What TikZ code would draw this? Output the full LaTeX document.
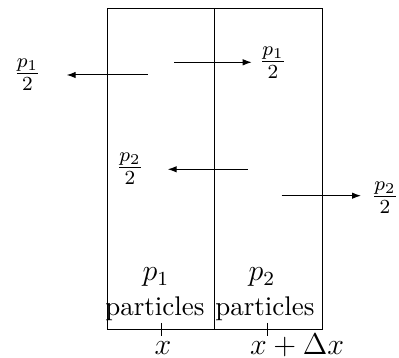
\documentclass[tikz,border=0pt]{standalone}
\usetikzlibrary{arrows.meta}
\begin{document}
\begin{tikzpicture}[x=0.4pt,y=-0.4pt,
  arr/.style={-{Latex[length=3.6pt,width=2.6pt]}},
  fraclbl/.style={inner sep=0pt,font=\large},
  lbl/.style={inner sep=0pt,font=\fontsize{11.5}{13}\selectfont},
  ptxt/.style={inner sep=0pt,font=\fontsize{10.8}{13}\selectfont}]
\useasboundingbox (0,0) rectangle (399,358);
% box
\coordinate (tl) at (107.3,8.3);
\coordinate (br) at (322,330);
\coordinate (mt) at (214.3,8.3);
\coordinate (mb) at (214.3,330);
\draw (tl) rectangle (br);
\draw (mt) -- (mb);
% ticks
\coordinate (t1a) at (161,323);   \coordinate (t1b) at (161,336);
\coordinate (t2a) at (267.7,323); \coordinate (t2b) at (267.7,336);
\draw (t1a) -- (t1b);
\draw (t2a) -- (t2b);
\node[lbl,anchor=base] (xl) at (163,355) {$x$};
\node[lbl,anchor=base west] (xdl) at (249.5,355) {$x+\Delta x$};
% particle labels
\node[lbl,anchor=base] (p1) at (156,281) {$p_1$};
\node[ptxt,anchor=base] (pt1) at (155,316) {particles};
\node[lbl,anchor=base] (p2) at (262,281) {$p_2$};
\node[ptxt,anchor=base] (pt2) at (265,316) {particles};
% arrows
\coordinate (a1s) at (147.7,75);   \coordinate (a1e) at (66.7,75);
\coordinate (a2s) at (174,62.3);   \coordinate (a2e) at (251.7,62.3);
\coordinate (a3s) at (247.7,169.3);\coordinate (a3e) at (167.7,169.3);
\coordinate (a4s) at (281.7,195.7);\coordinate (a4e) at (361,195.7);
\draw[arr] (a1s) -- (a1e);
\draw[arr] (a2s) -- (a2e);
\draw[arr] (a3s) -- (a3e);
\draw[arr] (a4s) -- (a4e);
\node[fraclbl] (f1) at (27.5,75) {$\frac{p_1}{2}$};
\node[fraclbl] (f2) at (273,63) {$\frac{p_1}{2}$};
\node[fraclbl] (f3) at (130,169) {$\frac{p_2}{2}$};
\node[fraclbl] (f4) at (385,198) {$\frac{p_2}{2}$};
\end{tikzpicture}
\end{document}
